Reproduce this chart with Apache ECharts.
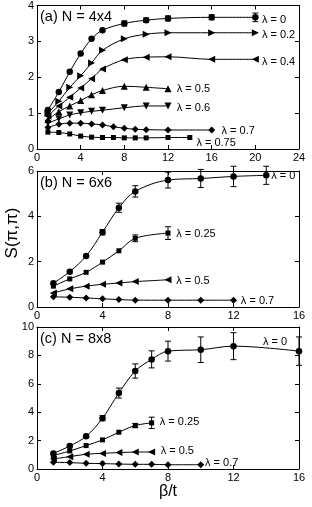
<!DOCTYPE html>
<html><head><meta charset="utf-8">
<script src="https://cdn.jsdelivr.net/npm/echarts@6/dist/echarts.min.js"></script>
<style>html,body{margin:0;padding:0;background:#fff}#c{width:312px;height:507px}</style>
</head><body><div id="c"></div>
<script>
// ---------- Panel (a) N = 4x4 ----------
const aX0 = [1,2,3,4,5,6,8,10,12,16,20];
const aY0 = [1.09,1.59,2.15,2.66,3.07,3.31,3.5,3.59,3.64,3.67,3.67];
const aE0 = [0,0,0,0,0,0,0.07,0.06,0.07,0.07,0.12];
const aX02 = [1,2,3,4,5,6,8,10,12,16,20];
const aY02 = [1.0,1.33,1.72,2.04,2.4,2.75,3.07,3.2,3.24,3.24,3.24];
const aX04 = [1,2,3,4,5,6,8,10,12,16,20];
const aY04 = [0.92,1.2,1.44,1.7,1.96,2.23,2.49,2.56,2.57,2.5,2.5];
const aX05 = [1,2,3,4,5,6,8,10,12];
const aY05 = [0.82,1.04,1.2,1.35,1.51,1.63,1.75,1.72,1.68];
const aX06 = [1,2,3,4,5,6,8,10,12];
const aY06 = [0.72,0.84,0.95,1.01,1.05,1.08,1.15,1.2,1.2];
const aX07 = [1,2,3,4,5,6,7,8,9,10,12,16];
const aY07 = [0.6,0.69,0.72,0.72,0.7,0.67,0.62,0.58,0.55,0.54,0.53,0.53];
const aX075 = [1,2,3,4,5,6,7,8,9,10,12,14];
const aY075 = [0.47,0.46,0.42,0.36,0.33,0.32,0.32,0.31,0.31,0.31,0.32,0.32];
const aLabels = ['λ = 0','λ = 0.2','λ = 0.4','λ = 0.5','λ = 0.6','λ = 0.7','λ = 0.75'];
const aLabelX = [20.6,20.6,20.6,12.8,12.8,16.9,14.6];
const aLabelY = [3.61,3.19,2.43,1.68,1.15,0.5,0.17];
// ---------- Panel (b) N = 6x6 ----------
const bX0 = [1,2,3,4,5,6,8,10,12,14];
const bY0 = [1.05,1.56,2.25,3.3,4.38,5.1,5.6,5.67,5.76,5.81];
const bE0 = [0,0,0,0.12,0.2,0.25,0.35,0.4,0.45,0.4];
const bX025 = [1,2,3,4,5,6,8];
const bY025 = [0.92,1.24,1.53,1.98,2.48,3.03,3.26];
const bE025 = [0,0,0,0,0,0.15,0.28];
const bX05 = [1,2,3,4,5,6,8];
const bY05 = [0.62,0.8,0.92,1.0,1.06,1.12,1.2];
const bX07 = [1,2,3,4,5,6,8,10,12];
const bY07 = [0.45,0.43,0.4,0.36,0.33,0.3,0.3,0.3,0.3];
const bLabels = ['λ = 0','λ = 0.25','λ = 0.5','λ = 0.7'];
const bLabelX = [14.3,8.5,8.5,12.45];
const bLabelY = [5.8,3.23,1.15,0.27];
// ---------- Panel (c) N = 8x8 ----------
const cX0 = [1,2,3,4,5,6,7,8,10,12,16];
const cY0 = [1.1,1.62,2.3,3.58,5.35,6.9,7.72,8.3,8.4,8.65,8.3];
const cE0 = [0,0,0,0.18,0.35,0.5,0.6,0.7,0.9,0.95,1.0];
const cX025 = [1,2,3,4,5,6,7];
const cY025 = [0.95,1.27,1.65,2.05,2.59,3.06,3.25];
const cE025 = [0,0,0,0,0,0.15,0.4];
const cX05 = [1,2,3,4,5,6,7];
const cY05 = [0.71,0.87,1.04,1.1,1.16,1.19,1.2];
const cX07 = [1,2,3,4,5,6,7,8,10];
const cY07 = [0.47,0.45,0.4,0.38,0.35,0.33,0.33,0.3,0.3];
const cLabels = ['λ = 0','λ = 0.25','λ = 0.5','λ = 0.7'];
const cLabelX = [13.8,7.5,7.55,10.26];
const cLabelY = [8.98,3.32,1.27,0.42];

const titles = ['(a) N = 4x4','(b) N = 6x6','(c) N = 8x8'];
const xMax = [24,16,16], yMax = [4,6,10], yInt = [1,2,2];

const FONT = 'Liberation Sans';
const grids = [
  {left:37, top:5, width:262, height:144},
  {left:37, top:171, width:262, height:136},
  {left:37, top:327, width:262, height:142}
];
const zip = (xs, ys) => xs.map((x,i)=>[x, ys[i]]);
const zip3 = (xs, ys, es) => xs.map((x,i)=>[x, ys[i], es[i]]).filter(d=>d[2]>0);

const xAxes = [], yAxes = [];
grids.forEach((g,i)=>{
  const common = {min:0, type:'value', splitLine:{show:false},
    axisLine:{show:true, onZero:false, lineStyle:{color:'#000', width:1}},
    axisTick:{show:true, inside:true, length:4, lineStyle:{color:'#000'}}};
  xAxes.push(Object.assign({}, common, {gridIndex:i, position:'bottom', max:xMax[i], interval:4,
    axisLabel:{color:'#000', fontSize:11, fontFamily:FONT, margin:3}}));
  xAxes.push(Object.assign({}, common, {gridIndex:i, position:'top', max:xMax[i], interval:4, axisLabel:{show:false}}));
  yAxes.push(Object.assign({}, common, {gridIndex:i, position:'left', max:yMax[i], interval:yInt[i],
    axisLabel:{color:'#000', fontSize:11, fontFamily:FONT, margin:3}}));
  yAxes.push(Object.assign({}, common, {gridIndex:i, position:'right', max:yMax[i], interval:yInt[i], axisLabel:{show:false}}));
});

const series = [];
function line(p, data, sym, rot, size){
  series.push({type:'line', xAxisIndex:2*p, yAxisIndex:2*p, data:data, smooth:0.35,
    symbol:sym, symbolRotate:rot||0, symbolSize:size||6, showSymbol:true,
    lineStyle:{color:'#000', width:1}, itemStyle:{color:'#000'}, z:3, animation:false});
}
function errs(p, data){
  series.push({type:'custom', xAxisIndex:2*p, yAxisIndex:2*p, data:data, z:4, animation:false,
    renderItem:(params, api)=>{
      const x = api.value(0), y = api.value(1), e = api.value(2);
      const top = api.coord([x, y+e]), bot = api.coord([x, y-e]);
      const st = {stroke:'#000', lineWidth:1};
      return {type:'group', children:[
        {type:'line', shape:{x1:top[0], y1:top[1], x2:bot[0], y2:bot[1]}, style:st},
        {type:'line', shape:{x1:top[0]-3, y1:top[1], x2:top[0]+3, y2:top[1]}, style:st},
        {type:'line', shape:{x1:bot[0]-3, y1:bot[1], x2:bot[0]+3, y2:bot[1]}, style:st}
      ]};
    }});
}
const DIAM = 'diamond';
// panel a
line(0, zip(aX0,aY0), 'circle', 0, 6.5); errs(0, zip3(aX0,aY0,aE0));
line(0, zip(aX02,aY02), 'triangle', -90, 7);
line(0, zip(aX04,aY04), 'triangle', 90, 7);
line(0, zip(aX05,aY05), 'triangle', 0, 7);
line(0, zip(aX06,aY06), 'triangle', 180, 7);
line(0, zip(aX07,aY07), DIAM, 0, 7);
line(0, zip(aX075,aY075), 'rect', 0, 5);
// panel b
line(1, zip(bX0,bY0), 'circle', 0, 6.5); errs(1, zip3(bX0,bY0,bE0));
line(1, zip(bX025,bY025), 'rect', 0, 5); errs(1, zip3(bX025,bY025,bE025));
line(1, zip(bX05,bY05), 'triangle', 90, 7);
line(1, zip(bX07,bY07), DIAM, 0, 7);
// panel c
line(2, zip(cX0,cY0), 'circle', 0, 6.5); errs(2, zip3(cX0,cY0,cE0));
line(2, zip(cX025,cY025), 'rect', 0, 5); errs(2, zip3(cX025,cY025,cE025));
line(2, zip(cX05,cY05), 'triangle', 90, 7);
line(2, zip(cX07,cY07), DIAM, 0, 7);

const chart = echarts.init(document.getElementById('c'), null, {renderer:'canvas'});
chart.setOption({
  animation:false,
  backgroundColor:'#fff',
  grid: grids,
  xAxis: xAxes,
  yAxis: yAxes,
  series: series
});

// curve labels anchored in data coordinates
const graphics = [
  {type:'text', left:40, top:9, style:{text:titles[0], fontSize:14.5, fontFamily:FONT, fill:'#000'}},
  {type:'text', left:40, top:175, style:{text:titles[1], fontSize:14.5, fontFamily:FONT, fill:'#000'}},
  {type:'text', left:40, top:331, style:{text:titles[2], fontSize:14.5, fontFamily:FONT, fill:'#000'}},
  {type:'text', x:12, y:233, rotation:Math.PI/2, style:{text:'S(π,π)', fontSize:17, fontFamily:FONT, fill:'#000', align:'center', verticalAlign:'middle'}},
  {type:'text', x:168, y:492, style:{text:'β/t', fontSize:16, fontFamily:FONT, fill:'#000', align:'center', verticalAlign:'middle'}}
];
[[aLabelX,aLabelY,aLabels],[bLabelX,bLabelY,bLabels],[cLabelX,cLabelY,cLabels]].forEach((set,p)=>{
  set[0].forEach((x,i)=>{
    const pt = chart.convertToPixel({xAxisIndex:2*p, yAxisIndex:2*p}, [x, set[1][i]]);
    graphics.push({type:'text', x:pt[0], y:pt[1], z:10,
      style:{text:set[2][i], fontSize:11, fontFamily:FONT, fill:'#000', align:'left', verticalAlign:'middle'}});
  });
});
chart.setOption({graphic: graphics});
</script></body></html>
